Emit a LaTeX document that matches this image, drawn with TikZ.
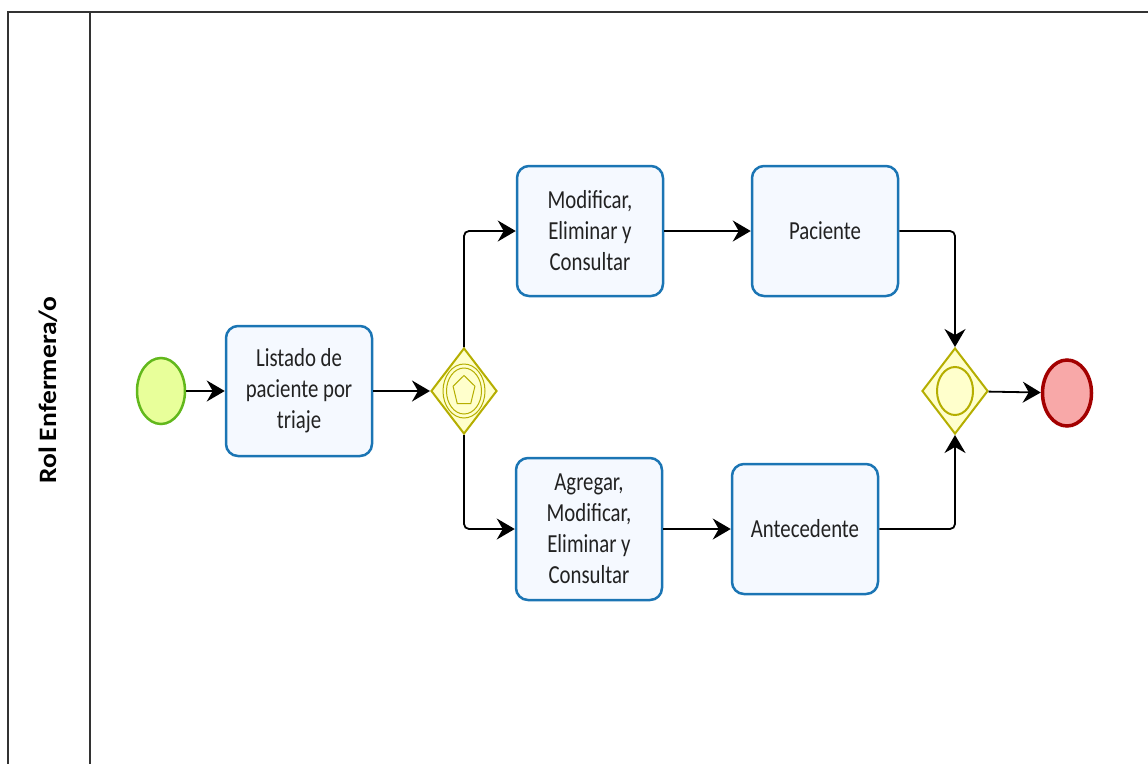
\documentclass[tikz,border=0pt]{standalone}
\usepackage{fontspec}
\setmainfont{Carlito}[FakeStretch=0.8]
\newfontfamily\lanefont{Carlito}[FakeStretch=1.1]
\usepackage{tikz}
\usetikzlibrary{arrows.meta}
\usetikzlibrary{shapes.geometric}
\usetikzlibrary{positioning}

\definecolor{taskblue}{HTML}{1B75B4}
\definecolor{taskfill}{HTML}{F5F9FF}
\definecolor{gateolive}{HTML}{B5AE00}
\definecolor{gatefill}{HTML}{FFFFCC}
\definecolor{startgreen}{HTML}{62B81C}
\definecolor{startfill}{HTML}{E8FF9A}
\definecolor{endred}{HTML}{A30000}
\definecolor{endfill}{HTML}{F8A8A8}
\definecolor{textgray}{HTML}{222222}

\begin{document}
\begin{tikzpicture}
	[
	x=1pt, y=-1pt,
	task/.style = {draw=taskblue, fill=taskfill, line width=2.5pt, rounded corners=12pt, minimum width=146pt, minimum height=130pt, align=center, text=textgray, font=\fontsize{26}{31}\selectfont},
	gate/.style = {diamond, draw=gateolive, fill=gatefill, line width=2pt, minimum width=66pt, minimum height=86pt, inner sep=0pt},
	event/.style = {ellipse, minimum width=48pt, minimum height=66pt, inner sep=0pt},
	flow/.style = {-{Stealth[length=18pt,width=21pt,inset=6pt]}, line width=1.8pt, rounded corners=5pt}
	]
	\useasboundingbox (0,0) rectangle (1148,763);
	% lane
	\draw[line width=1.5pt, black!80] (1160,12) -- (8,12) -- (8,775);
	\draw[line width=1.5pt, black!80] (90,12) -- (90,775);
	\node[rotate=90, font=\lanefont\bfseries\fontsize{25}{25}\selectfont] (lane) at (48,390) {Rol Enfermera/o};

	% events and gateways
	\node[event, draw=startgreen, fill=startfill, line width=2.5pt] (inicio) at (161,391) {};
	\node[event, draw=endred, fill=endfill, line width=3.5pt, minimum width=49pt] (fin) at (1067,393) {};
	\node[gate] (split) at (464,391) {};
	\node[gate] (join) at (955,391) {};
	\draw[gateolive, line width=1pt] (split.center) ellipse (21pt and 27pt);
	\draw[gateolive, line width=1pt] (split.center) ellipse (17.5pt and 23pt);
	\draw[gateolive, line width=1pt, shift={(split.center)}, yscale=1.35] (90:11.5pt) -- (162:11.5pt) -- (234:11.5pt) -- (306:11.5pt) -- (18:11.5pt) -- cycle;
	\draw[gateolive, line width=2pt] (join.center) ellipse (18pt and 24pt);

	% tasks
	\node[task] (listado) at (299,391) {Listado de\\paciente por\\triaje};
	\node[task] (modif) at (590,231) {Modificar,\\Eliminar y\\Consultar};
	\node[task] (paciente) at (825,231) {Paciente};
	\node[task, minimum height=142pt] (agregar) at (589,529) {Agregar,\\Modificar,\\Eliminar y\\Consultar};
	\node[task] (antec) at (805,529) {Antecedente};

	% flows
	\draw[flow] (inicio) -- (listado);
	\draw[flow] (listado) -- (split);
	\draw[flow] (split.north) |- (modif.west);
	\draw[flow] (split.south) |- (agregar.west);
	\draw[flow] (modif) -- (paciente);
	\draw[flow] (agregar.east |- antec.west) -- (antec.west);
	\draw[flow] (paciente.east) -| (join.north);
	\draw[flow] (antec.east) -| (join.south);
	\draw[flow] (join) -- (fin);
\end{tikzpicture}
\end{document}
